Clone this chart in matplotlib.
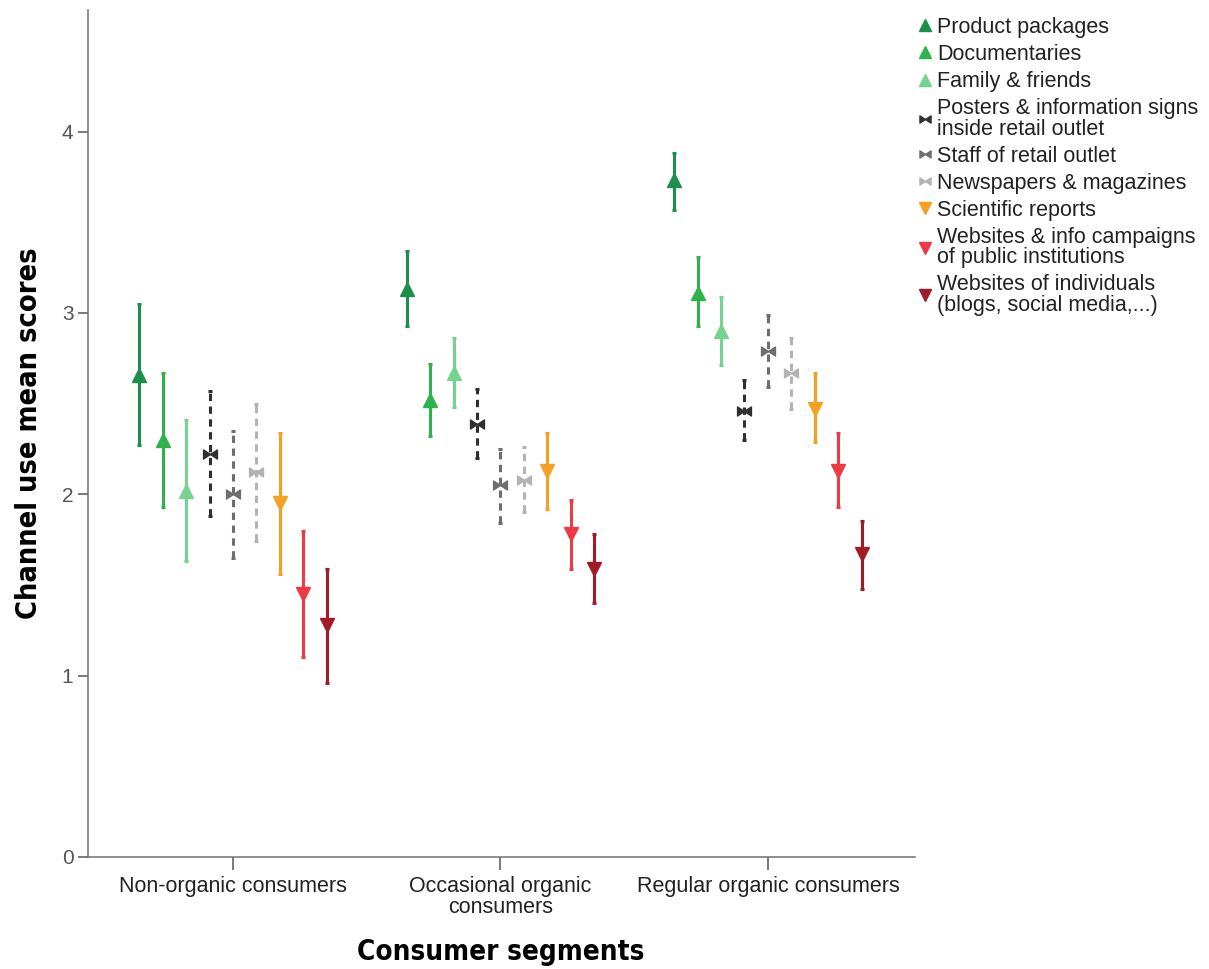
import matplotlib
matplotlib.use("Agg")
import matplotlib.pyplot as plt
from matplotlib.path import Path
from matplotlib.lines import Line2D

segments = ["Non-organic consumers", "Occasional organic\nconsumers", "Regular organic consumers"]

channels = [
    "Product packages",
    "Documentaries",
    "Family & friends",
    "Posters & information signs\ninside retail outlet",
    "Staff of retail outlet",
    "Newspapers & magazines",
    "Scientific reports",
    "Websites & info campaigns\nof public institutions",
    "Websites of individuals\n(blogs, social media,...)",
]

# mean scores per channel, one value per segment
means = [
    [2.66, 3.13, 3.73],
    [2.30, 2.52, 3.11],
    [2.02, 2.67, 2.90],
    [2.22, 2.39, 2.46],
    [2.00, 2.05, 2.79],
    [2.12, 2.08, 2.67],
    [1.95, 2.13, 2.47],
    [1.45, 1.78, 2.13],
    [1.28, 1.59, 1.67],
]

# 95% confidence interval bounds
lower = [
    [2.27, 2.93, 3.57],
    [1.93, 2.32, 2.93],
    [1.63, 2.48, 2.71],
    [1.88, 2.20, 2.30],
    [1.65, 1.84, 2.59],
    [1.74, 1.90, 2.47],
    [1.56, 1.92, 2.29],
    [1.10, 1.59, 1.93],
    [0.96, 1.40, 1.48],
]
upper = [
    [3.05, 3.34, 3.88],
    [2.67, 2.72, 3.31],
    [2.41, 2.86, 3.09],
    [2.57, 2.58, 2.63],
    [2.35, 2.25, 2.99],
    [2.50, 2.26, 2.86],
    [2.34, 2.34, 2.67],
    [1.80, 1.97, 2.34],
    [1.59, 1.78, 1.85],
]

colors = ["#1b8f4c", "#2fb24c", "#74d48f", "#2f2f2f", "#6e6e6e", "#b3b3b3",
          "#f5a023", "#ee3a45", "#a01b26"]

# bow-tie marker for the in-store / print channels
bowtie = Path([(-1, -0.65), (-1, 0.65), (0, 0), (1, 0.65), (1, -0.65), (0, 0), (-1, -0.65)],
              [Path.MOVETO, Path.LINETO, Path.LINETO, Path.LINETO, Path.LINETO, Path.LINETO, Path.CLOSEPOLY])
markers = ["^", "^", "^", bowtie, bowtie, bowtie, "v", "v", "v"]
dashed = [False, False, False, True, True, True, False, False, False]

plt.rcParams["font.family"] = ["Liberation Sans", "DejaVu Sans"]

fig = plt.figure(figsize=(12.09, 9.69), dpi=100)
ax = fig.add_axes([88 / 1209, 112 / 969, (915 - 88) / 1209, (857 - 10) / 969])

step = 0.0875
for i, name in enumerate(channels):
    xs = [g + (i - 4) * step for g in range(len(segments))]
    m = means[i]
    yerr = [[m[k] - lower[i][k] for k in range(3)], [upper[i][k] - m[k] for k in range(3)]]
    cont = ax.errorbar(xs, m, yerr=yerr, fmt="none", ecolor=colors[i],
                       elinewidth=2.2, capsize=1.2, capthick=2.2, zorder=2)
    if dashed[i]:
        for lc in cont.lines[2]:
            lc.set_linestyle((0, (2.4, 1.8)))
    ax.plot(xs, m, linestyle="none", marker=markers[i], markersize=10,
            color=colors[i], zorder=3)

ax.set_xlim(-0.542, 2.55)
ax.set_ylim(0, 4.67)
ax.set_yticks([0, 1, 2, 3, 4])
ax.set_yticklabels(["0", "1", "2", "3", "4"])
ax.set_xticks(range(len(segments)))
ax.set_xticklabels(segments, fontsize=15.5, color="#222222", linespacing=0.95)

for side in ("top", "right"):
    ax.spines[side].set_visible(False)
for side in ("left", "bottom"):
    ax.spines[side].set_color("#707070")
    ax.spines[side].set_linewidth(1.1)

ax.tick_params(axis="x", length=9, width=1.1, color="#555555", pad=5)
ax.tick_params(axis="y", length=7.5, width=1.1, color="#555555", labelsize=15,
               labelcolor="#555555", pad=3)

label_font = dict(family="DejaVu Sans", fontstretch="condensed", weight="bold")
ax.set_xlabel("Consumer segments", va="center", fontsize=20, **label_font)
ax.set_ylabel("Channel use mean scores", va="center", fontsize=20.8, **label_font)
ax.xaxis.set_label_coords(0.4995, -0.1125)
ax.yaxis.set_label_coords(-0.071, 0.5)

handles = [Line2D([], [], linestyle="none", marker=markers[i],
                  markersize=9 if markers[i] in ("^", "v") else 8, color=colors[i])
           for i in range(len(channels))]
leg = fig.legend(handles, channels, loc="upper left", bbox_to_anchor=(919 / 1209, 1 - 17 / 969),
                 frameon=False, fontsize=15.5, handlelength=0.55, handletextpad=0.3,
                 labelspacing=0.28, borderpad=0.0, borderaxespad=0.0)
for t in leg.get_texts():
    t.set_linespacing(0.97)
    t.set_color("#222222")

fig.savefig("out.png", dpi=100)
